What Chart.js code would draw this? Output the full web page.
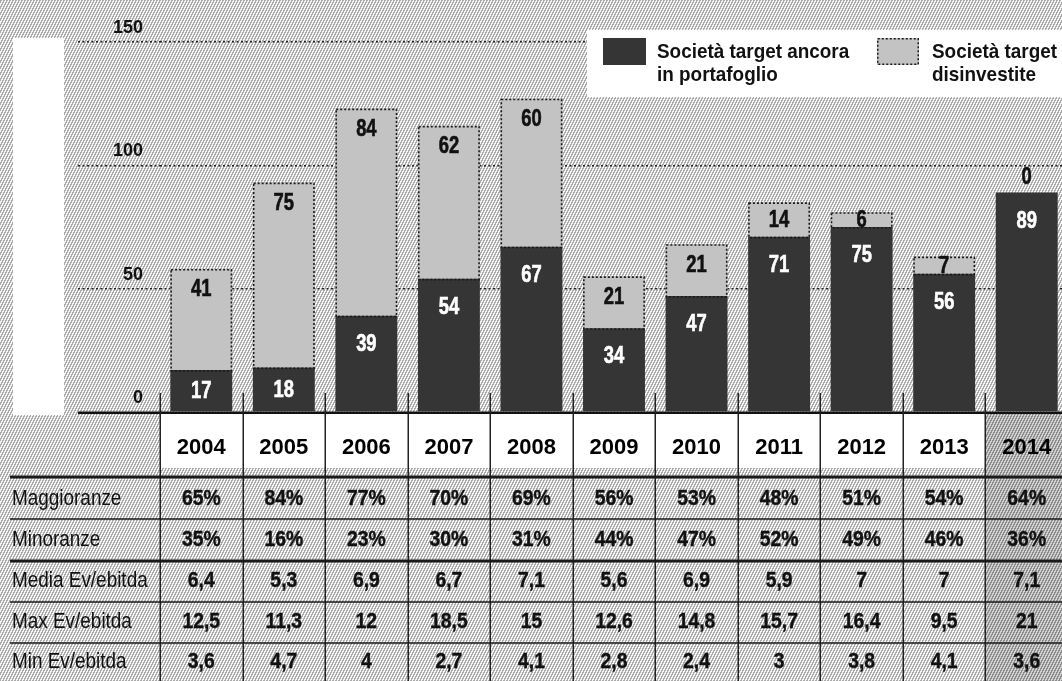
<!DOCTYPE html>
<html><head><meta charset="utf-8">
<script src="https://cdn.jsdelivr.net/npm/chart.js@4.4.1/dist/chart.umd.min.js"></script>
<style>
html,body{margin:0;padding:0;overflow:hidden;background:#fff;}
#wrap{width:1062px;height:681px;overflow:hidden;position:relative;}
canvas{display:block;}
</style></head><body>
<div id="wrap"><canvas id="c" width="1068" height="681"></canvas></div>
<script>
// ---- data ----
const years = ['2004','2005','2006','2007','2008','2009','2010','2011','2012','2013','2014'];
const inPortafoglio = [17,18,39,54,67,34,47,71,75,56,89];
const disinvestite = [41,75,84,62,60,21,21,14,6,7,0];
const yTicks = [0,50,100,150];
const legendPortafoglio = ['Società target ancora','in portafoglio'];
const legendDisinvestite = ['Società target','disinvestite'];
const rowLabels = ['Maggioranze','Minoranze','Media Ev/ebitda','Max Ev/ebitda','Min Ev/ebitda'];
const maggioranze = [65,84,77,70,69,56,53,48,51,54,64];
const minoranze = [35,16,23,30,31,44,47,52,49,46,36];
const mediaEvEbitda = [6.4,5.3,6.9,6.7,7.1,5.6,6.9,5.9,7,7,7.1];
const maxEvEbitda = [12.5,11.3,12,18.5,15,12.6,14.8,15.7,16.4,9.5,21];
const minEvEbitda = [3.6,4.7,4,2.7,4.1,2.8,2.4,3,3.8,4.1,3.6];

const pct = v => v + '%';
const dec = v => String(v).replace('.', ',');
const tableRows = [
  {label: rowLabels[0], values: maggioranze.map(pct)},
  {label: rowLabels[1], values: minoranze.map(pct)},
  {label: rowLabels[2], values: mediaEvEbitda.map(dec)},
  {label: rowLabels[3], values: maxEvEbitda.map(dec)},
  {label: rowLabels[4], values: minEvEbitda.map(dec)}
];

// ---- styles ----
const FONT = '"Liberation Sans", Arial, sans-serif';
const DARK = '#353535';
const LIGHT = '#c3c3c3';
const canvas = document.getElementById('c');
const ctx = canvas.getContext('2d');

function makePattern(bg, fg) {
  const c = document.createElement('canvas');
  c.width = 3; c.height = 6;
  const x = c.getContext('2d');
  x.fillStyle = bg; x.fillRect(0, 0, 3, 6);
  x.fillStyle = fg;
  for (let i = 0; i < 3; i++) for (let j = 0; j < 6; j++) if (((j + 2 * i) % 6) < 3) x.fillRect(i, j, 1, 1);
  return ctx.createPattern(c, 'repeat');
}
const bgPattern = makePattern('#f6f6f6', '#aaaaaa');
const colPattern = makePattern('#d2d2d2', '#8c8c8c');

// condensed text: scale horizontally, slight stroke for the heavy print look
function text(c, t, x, y, font, sx, align, color, heavy) {
  c.save();
  c.translate(x, y);
  c.scale(sx, 1);
  c.font = font;
  c.textAlign = align;
  c.fillStyle = color;
  c.fillText(t, 0, 0);
  if (heavy) { c.strokeStyle = color; c.lineWidth = heavy; c.strokeText(t, 0, 0); }
  c.restore();
}

const rowCenters = [499, 540, 581, 622, 662];
const rowLines = [{y:477, w:3}, {y:519, w:1.5}, {y:561, w:3}, {y:602, w:1.5}, {y:643, w:1.5}];

const deco = {
  id: 'deco',
  beforeDraw(chart) {
    const c = chart.ctx, x = chart.scales.x;
    const colW = x.getPixelForValue(1) - x.getPixelForValue(0);
    const left0 = x.getPixelForValue(0) - colW / 2;
    const last = years.length - 1;
    const leftLast = x.getPixelForValue(last) - colW / 2;
    c.save();
    c.fillStyle = bgPattern; c.fillRect(0, 0, chart.width, chart.height);
    c.fillStyle = '#fff'; c.fillRect(13, 38, 51, 377);
    c.fillStyle = '#fff'; c.fillRect(left0, 414, leftLast - left0, 54);
    c.fillStyle = colPattern; c.fillRect(leftLast, 413, chart.width - leftLast, chart.height - 413);
    c.restore();
  },
  afterDatasetsDraw(chart) {
    const c = chart.ctx;
    const m0 = chart.getDatasetMeta(0), m1 = chart.getDatasetMeta(1);
    c.save();
    c.setLineDash([2, 2]); c.lineWidth = 1.6; c.strokeStyle = '#1a1a1a';
    m1.data.forEach(el => {
      const h = el.base - el.y; if (h < 1) return;
      const w = el.width;
      c.strokeRect(el.x - w / 2 + 0.8, el.y + 0.8, w - 1.6, h);
    });
    c.setLineDash([]);
    c.textBaseline = 'middle';
    const f = 'bold 23px ' + FONT;
    m0.data.forEach((el, i) => {
      const h = el.base - el.y;
      text(c, String(inPortafoglio[i]), el.x, el.y + Math.min(28, h / 2) + 1, f, 0.8, 'center', '#fff', 0.6);
    });
    m1.data.forEach((el, i) => {
      const h = el.base - el.y;
      const y = h < 1 ? el.y - 15 : el.y + Math.min(20, h / 2) + 1;
      text(c, String(disinvestite[i]), el.x, y, f, 0.8, 'center', '#111', 0.6);
    });
    c.restore();
  },
  afterDraw(chart) {
    const c = chart.ctx, x = chart.scales.x, y = chart.scales.y;
    const colW = x.getPixelForValue(1) - x.getPixelForValue(0);
    const left0 = x.getPixelForValue(0) - colW / 2;
    const y0 = y.getPixelForValue(0);
    c.save();
    // baseline
    c.fillStyle = '#111'; c.fillRect(78, y0 - 0.5, chart.width - 78, 2.5);
    // vertical column lines
    c.strokeStyle = '#222'; c.lineWidth = 1.5;
    for (let i = 0; i < years.length; i++) {
      const xb = Math.round(left0 + i * colW) + 0.25;
      c.beginPath(); c.moveTo(xb, 393); c.lineTo(xb, chart.height); c.stroke();
    }
    // horizontal table lines
    c.fillStyle = '#1a1a1a';
    rowLines.forEach(l => c.fillRect(10, l.y - l.w / 2, chart.width - 10, l.w));
    // table text
    c.textBaseline = 'middle';
    tableRows.forEach((r, ri) => {
      text(c, r.label, 12, rowCenters[ri], '22px ' + FONT, 0.86, 'left', '#111');
      r.values.forEach((v, i) => text(c, v, x.getPixelForValue(i), rowCenters[ri], 'bold 22px ' + FONT, 0.88, 'center', '#111', 0.4));
    });
    // legend
    c.fillStyle = '#fff'; c.fillRect(587, 30, chart.width - 587, 67);
    c.fillStyle = DARK; c.fillRect(603, 38, 43, 27);
    c.fillStyle = LIGHT; c.fillRect(877, 38, 42, 27);
    c.setLineDash([2, 2]); c.lineWidth = 1.5; c.strokeStyle = '#1a1a1a';
    c.strokeRect(877.75, 38.75, 40.5, 25.5);
    c.setLineDash([]);
    c.textBaseline = 'alphabetic';
    const lf = 'bold 21px ' + FONT;
    legendPortafoglio.forEach((t, i) => text(c, t, 657, 58 + i * 23, lf, 0.9, 'left', '#111'));
    legendDisinvestite.forEach((t, i) => text(c, t, 932, 58 + i * 23, lf, 0.9, 'left', '#111'));
    c.restore();
  }
};

const zeroTransparent = cx => (cx.tick && cx.tick.value === 0) ? 'rgba(0,0,0,0)' : '#222';

new Chart(ctx, {
  type: 'bar',
  data: {
    labels: years,
    datasets: [
      {label: legendPortafoglio.join(' '), data: inPortafoglio, backgroundColor: DARK, stack: 's'},
      {label: legendDisinvestite.join(' '), data: disinvestite, backgroundColor: LIGHT, stack: 's'}
    ]
  },
  options: {
    responsive: false,
    animation: false,
    devicePixelRatio: 1,
    layout: {padding: {top: 42, left: 0, right: 0, bottom: 0}},
    plugins: {legend: {display: false}, tooltip: {enabled: false}},
    datasets: {bar: {barPercentage: 0.75, categoryPercentage: 1, borderWidth: 0}},
    scales: {
      x: {
        stacked: true,
        grid: {display: false},
        border: {display: false},
        ticks: {font: {family: FONT, size: 22, weight: 'bold'}, color: '#000', padding: 15, maxRotation: 0, autoSkip: false},
        afterFit(a) { a.height = 269; }
      },
      y: {
        stacked: true, min: yTicks[0], max: yTicks[yTicks.length - 1],
        afterBuildTicks(a) { a.ticks = yTicks.map(v => ({value: v})); },
        grid: {color: zeroTransparent, tickColor: zeroTransparent, lineWidth: 1.5, tickWidth: 1.5,
               tickLength: 82, borderDash: [2, 2.5], tickBorderDash: [2, 2.5]},
        border: {display: false, dash: [2, 2.5]},
        ticks: {padding: -65, labelOffset: -14, color: '#111', font: {family: FONT, size: 18, weight: 'bold'}},
        afterFit(a) { a.width = 160; }
      }
    }
  },
  plugins: [deco]
});
</script>
</body></html>
